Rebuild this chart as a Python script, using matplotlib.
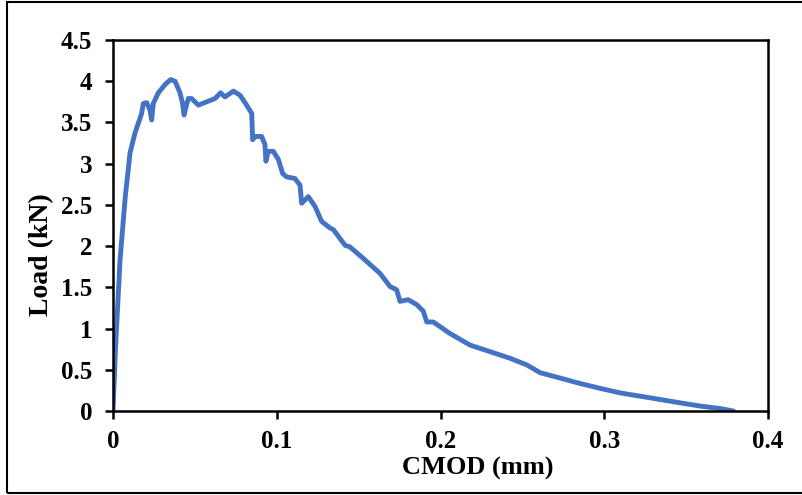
import matplotlib
matplotlib.use("Agg")
import matplotlib.pyplot as plt
from matplotlib.patches import Rectangle

cmod = [0.0, 0.0015, 0.0043, 0.0075, 0.0104, 0.0134, 0.0175, 0.0185, 0.0206, 0.0226, 0.0236,
        0.0246, 0.0277, 0.0318, 0.0352, 0.0379, 0.0409, 0.0425, 0.0434, 0.0446,
        0.046, 0.048, 0.0521, 0.0572, 0.0623, 0.0657, 0.0684, 0.0735, 0.0776,
        0.0816, 0.0847, 0.0853, 0.0867, 0.0908, 0.0928, 0.0934, 0.0948, 0.0979,
        0.101, 0.1036, 0.106, 0.1111, 0.1142, 0.1152, 0.1193, 0.1234, 0.1274,
        0.1325, 0.1346, 0.1417, 0.1447, 0.1529, 0.163, 0.1692, 0.1732, 0.1753,
        0.1803, 0.1855, 0.1895, 0.1916, 0.1956, 0.2058, 0.218, 0.2302, 0.2424,
        0.2526, 0.2608, 0.273, 0.285, 0.2974, 0.3096, 0.3218, 0.334, 0.346,
        0.3585, 0.3707, 0.3788]
load = [0.0, 0.75, 1.83, 2.6, 3.13, 3.37, 3.61, 3.73, 3.74, 3.65, 3.53,
        3.73, 3.86, 3.96, 4.02, 4.0, 3.86, 3.73, 3.59, 3.69,
        3.79, 3.79, 3.71, 3.75, 3.79, 3.86, 3.81, 3.88, 3.83,
        3.71, 3.61, 3.29, 3.33, 3.33, 3.23, 3.03, 3.15, 3.15,
        3.05, 2.88, 2.84, 2.82, 2.74, 2.52, 2.6, 2.48, 2.3,
        2.22, 2.2, 2.01, 1.99, 1.85, 1.67, 1.51, 1.47, 1.33,
        1.35, 1.29, 1.21, 1.08, 1.08, 0.94, 0.8, 0.72, 0.64,
        0.56, 0.465, 0.4, 0.335, 0.275, 0.22, 0.18, 0.14, 0.1,
        0.06, 0.03, 0.0]

xticks = [0, 0.1, 0.2, 0.3, 0.4]
xticklabels = ["0", "0.1", "0.2", "0.3", "0.4"]
yticks = [0, 0.5, 1, 1.5, 2, 2.5, 3, 3.5, 4, 4.5]
yticklabels = ["0", "0.5", "1", "1.5", "2", "2.5", "3", "3.5", "4", "4.5"]

plt.rcParams['font.family'] = ['Liberation Serif', 'DejaVu Serif']
plt.rcParams['font.weight'] = 'bold'

fig = plt.figure(figsize=(8.03, 4.95), dpi=100)
ax = fig.add_axes([113/803, 1-411/495, (768-113)/803, (411-40)/495])

ax.plot(cmod, load, color='#4472C4', lw=3.5, solid_joinstyle='round', solid_capstyle='round')

ax.set_xlim(0, 0.4)
ax.set_ylim(0, 4.5)
ax.set_xticks(xticks)
ax.set_xticklabels(xticklabels)
ax.set_yticks(yticks)
ax.set_yticklabels(yticklabels)
ax.tick_params(direction='out', length=6, width=1.8, labelsize=18, colors='black')
ax.tick_params(axis='y', pad=9)
ax.tick_params(axis='x', pad=8)
for s in ax.spines.values():
    s.set_linewidth(1.8)
    s.set_color('black')
ax.set_xlabel("CMOD (mm)", fontsize=19, fontweight='bold')
ax.set_ylabel("Load (kN)", fontsize=20, fontweight='bold')
ax.xaxis.set_label_coords((478-113)/655, -(468-411)/371)
ax.yaxis.set_label_coords((42-113)/655, (411-255)/371)
ax.xaxis.label.set_va('center')
ax.yaxis.label.set_va('center')

fig.patches.append(Rectangle((7/803, 1-493/495), 800/803, 491/495, transform=fig.transFigure,
                             fill=False, edgecolor='black', linewidth=1.5))

fig.savefig("out.png", dpi=100)
